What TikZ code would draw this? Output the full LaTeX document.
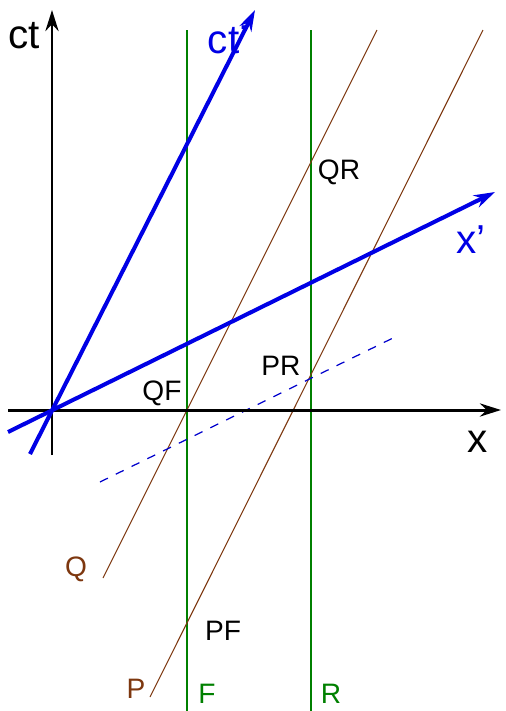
\documentclass[tikz,border=0pt]{standalone}
\usepackage{fontspec}
\setmainfont{Liberation Sans}
\usetikzlibrary{arrows.meta}
\definecolor{worldbrown}{RGB}{125,55,15}

\begin{document}
\begin{tikzpicture}[
    x=0.02cm, y=-0.02cm,
    axis/.style={-{Stealth[length=12pt, width=7.5pt]}, line width=1.7pt, black},
    primed/.style={-{Stealth[length=12pt, width=7.5pt]}, line width=2.3pt, blue!90!black},
    frameline/.style={line width=0.6pt, green!50!black},
    worldline/.style={line width=0.6pt, worldbrown},
    simul/.style={line width=0.7pt, blue!80!black, dash pattern=on 5pt off 5pt},
    axislabel/.style={font=\fontsize{23}{26}\selectfont},
    eventlabel/.style={font=\fontsize{16}{19}\selectfont}
]
\useasboundingbox (0,0) rectangle (505,711);
% points
\coordinate (O) at (52,410);
\coordinate (ctlow) at (52,455);   \coordinate (cttop) at (52,10);
\coordinate (xlow) at (8,410);     \coordinate (xtop) at (501,410);
\coordinate (ctplow) at (30,454);  \coordinate (ctptop) at (255,10);
\coordinate (xplow) at (8,432);    \coordinate (xptop) at (495,192);
\coordinate (Ftop) at (187,30);    \coordinate (Fbot) at (187,711);
\coordinate (Rtop) at (311,30);    \coordinate (Rbot) at (311,711);
\coordinate (Qbot) at (103,578);   \coordinate (Qtop) at (377,30);
\coordinate (Pbot) at (150,697);   \coordinate (Ptop) at (483,30);
\coordinate (sim1) at (100,482);   \coordinate (sim2) at (395,337);
% lines
\draw[frameline] (Ftop) -- (Fbot);
\draw[frameline] (Rtop) -- (Rbot);
\draw[worldline] (Qbot) -- (Qtop);
\draw[worldline] (Pbot) -- (Ptop);
\draw[simul] (sim1) -- (sim2);
\draw[axis] (ctlow) -- (cttop);
\draw[axis] (xlow) -- (xtop);
\draw[primed] (ctplow) -- (ctptop);
\draw[primed] (xplow) -- (xptop);
% labels
\node[axislabel] (ctlab) at (24,36) {ct};
\node[axislabel] (xlab) at (478,442) {x};
\node[axislabel, blue!90!black] (ctplab) at (228,40) {ct’};
\node[axislabel, blue!90!black] (xplab) at (471,240) {x’};
\node[eventlabel] (QF) at (162,393) {QF};
\node[eventlabel] (PR) at (281,366) {PR};
\node[eventlabel] (QR) at (339,172) {QR};
\node[eventlabel] (PF) at (223,631) {PF};
\node[eventlabel, worldbrown] (Qlab) at (76,569) {Q};
\node[eventlabel, worldbrown] (Plab) at (136,689) {P};
\node[eventlabel, green!50!black] (Flab) at (207,694) {F};
\node[eventlabel, green!50!black] (Rlab) at (331,694) {R};
\end{tikzpicture}
\end{document}
